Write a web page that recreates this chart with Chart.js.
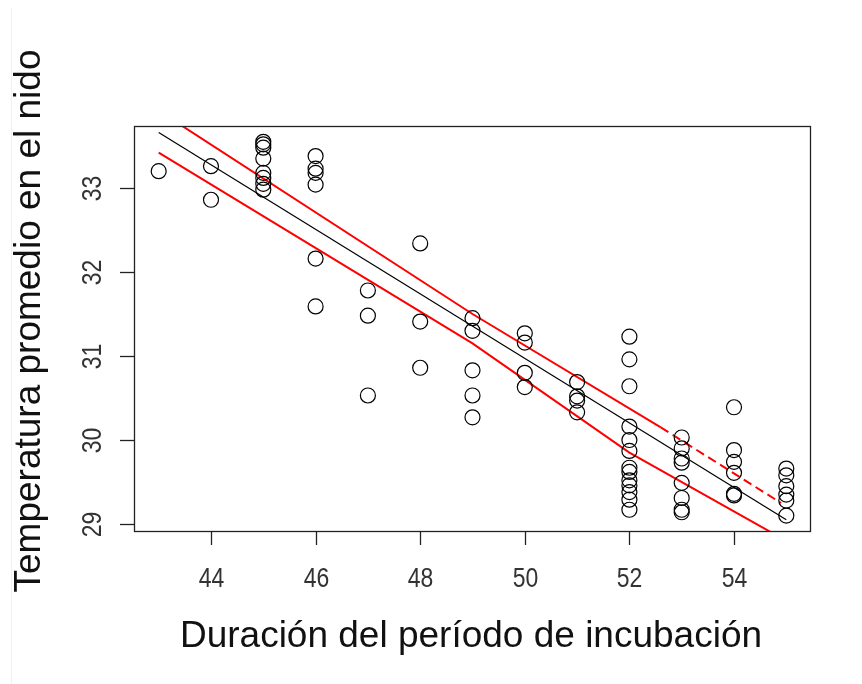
<!DOCTYPE html>
<html>
<head>
<meta charset="utf-8">
<title>Temperatura vs incubación</title>
<script src="https://cdn.jsdelivr.net/npm/chart.js@4"></script>
<style>
  html, body { margin: 0; padding: 0; background: #fff; }
  #wrap { width: 862px; height: 684px; position: relative; }
</style>
</head>
<body>
<div id="wrap"><canvas id="nido" width="862" height="684"></canvas></div>
<script>
// --- data: incubation length (days) vs mean nest temperature ---
const diasIncubacion = [
  43,
  44, 44,
  45, 45, 45, 45, 45, 45, 45, 45,
  46, 46, 46, 46, 46, 46,
  47, 47, 47,
  48, 48, 48,
  49, 49, 49, 49, 49,
  50, 50, 50, 50,
  51, 51, 51, 51,
  52, 52, 52, 52, 52, 52, 52, 52, 52, 52, 52, 52, 52,
  53, 53, 53, 53, 53, 53, 53, 53,
  54, 54, 54, 54, 54, 54,
  55, 55, 55, 55, 55, 55
];
const tempNido = [
  33.20,
  33.26, 32.86,
  33.55, 33.52, 33.48, 33.35, 33.18, 33.12, 33.05, 32.98,
  33.38, 33.23, 33.18, 33.04, 32.16, 31.59,
  31.78, 31.48, 30.53,
  32.34, 31.41, 30.86,
  31.45, 31.30, 30.83, 30.53, 30.27,
  31.27, 31.16, 30.80, 30.63,
  30.69, 30.52, 30.47, 30.33,
  31.23, 30.96, 30.64, 30.16, 30.00, 29.87, 29.67, 29.62, 29.52, 29.46, 29.38, 29.29, 29.17,
  30.03, 29.90, 29.78, 29.73, 29.49, 29.31, 29.17, 29.14,
  30.39, 29.88, 29.74, 29.61, 29.36, 29.34,
  29.66, 29.58, 29.45, 29.35, 29.28, 29.10
];

// fitted line and its band
const ajusteX = [43, 55];
const ajusteY = [33.66, 29.05];
const superiorX = [43, 49, 52.6, 54.9];
const superiorY = [33.92, 31.50, 30.15, 29.25];
const inferiorX = [43, 49, 52, 55];
const inferiorY = [33.42, 31.15, 29.85, 28.80];

const xTicks = [44, 46, 48, 50, 52, 54];
const yTicks = [29, 30, 31, 32, 33];
const xTitulo = 'Duración del período de incubación';
const yTitulo = 'Temperatura promedio en el nido';

const pares = (xs, ys) => xs.map((x, i) => ({ x: x, y: ys[i] }));

// R-style frame, ticks and labels
const ejesR = {
  id: 'ejesR',
  beforeDraw(chart) {
    const ctx = chart.ctx;
    ctx.save();
    ctx.fillStyle = '#f1f1f1';
    ctx.fillRect(11, 8, 1, 676);
    ctx.restore();
  },
  afterDatasetsDraw(chart) {
    const ctx = chart.ctx;
    const ca = chart.chartArea;
    const sx = chart.scales.x;
    const sy = chart.scales.y;
    ctx.save();
    ctx.strokeStyle = '#222';
    ctx.lineWidth = 1.3;
    ctx.strokeRect(ca.left + 0.5, ca.top + 0.5, ca.right - ca.left, ca.bottom - ca.top);

    ctx.fillStyle = '#333';
    ctx.font = '28px "Liberation Sans", Arial, sans-serif';
    ctx.textAlign = 'center';
    ctx.textBaseline = 'alphabetic';

    xTicks.forEach(v => {
      const px = Math.round(sx.getPixelForValue(v)) + 0.5;
      ctx.beginPath();
      ctx.moveTo(px, ca.bottom);
      ctx.lineTo(px, ca.bottom + 14);
      ctx.stroke();
      ctx.save();
      ctx.translate(px, 587);
      ctx.scale(0.82, 1);
      ctx.fillText(String(v), 0, 0);
      ctx.restore();
    });

    yTicks.forEach(v => {
      const py = Math.round(sy.getPixelForValue(v)) + 0.5;
      ctx.beginPath();
      ctx.moveTo(ca.left - 14, py);
      ctx.lineTo(ca.left, py);
      ctx.stroke();
      ctx.save();
      ctx.translate(101, py);
      ctx.rotate(-Math.PI / 2);
      ctx.scale(0.82, 1);
      ctx.fillText(String(v), 0, 0);
      ctx.restore();
    });

    ctx.fillStyle = '#111';
    ctx.font = '37px "Liberation Sans", Arial, sans-serif';
    ctx.fillText(xTitulo, 471, 647);
    ctx.save();
    ctx.translate(40, 321);
    ctx.rotate(-Math.PI / 2);
    ctx.fillText(yTitulo, 0, 0);
    ctx.restore();
    ctx.restore();
  }
};

new Chart(document.getElementById('nido'), {
  type: 'scatter',
  data: {
    datasets: [
      {
        label: 'observaciones',
        data: pares(diasIncubacion, tempNido),
        pointStyle: 'circle',
        pointRadius: 7.5,
        pointHoverRadius: 7.5,
        pointBorderWidth: 1.2,
        pointBorderColor: '#000',
        pointBackgroundColor: 'rgba(0,0,0,0)'
      },
      {
        type: 'line',
        label: 'ajuste',
        data: pares(ajusteX, ajusteY),
        borderColor: '#000',
        borderWidth: 1.2,
        pointRadius: 0,
        fill: false
      },
      {
        type: 'line',
        label: 'superior',
        data: pares(superiorX, superiorY),
        borderColor: '#ff0000',
        borderWidth: 2,
        pointRadius: 0,
        fill: false,
        segment: {
          borderDash: c => (c.p0.parsed.x >= 52.5 ? [9, 5] : undefined)
        }
      },
      {
        type: 'line',
        label: 'inferior',
        data: pares(inferiorX, inferiorY),
        borderColor: '#ff0000',
        borderWidth: 2,
        pointRadius: 0,
        fill: false
      }
    ]
  },
  options: {
    responsive: false,
    animation: false,
    layout: { padding: { left: 134, right: 52, top: 126, bottom: 153 } },
    plugins: {
      legend: { display: false },
      tooltip: { enabled: false }
    },
    scales: {
      x: { type: 'linear', min: 42.528, max: 55.453, display: false },
      y: { type: 'linear', min: 28.917, max: 33.738, display: false }
    }
  },
  plugins: [ejesR]
});
</script>
</body>
</html>
